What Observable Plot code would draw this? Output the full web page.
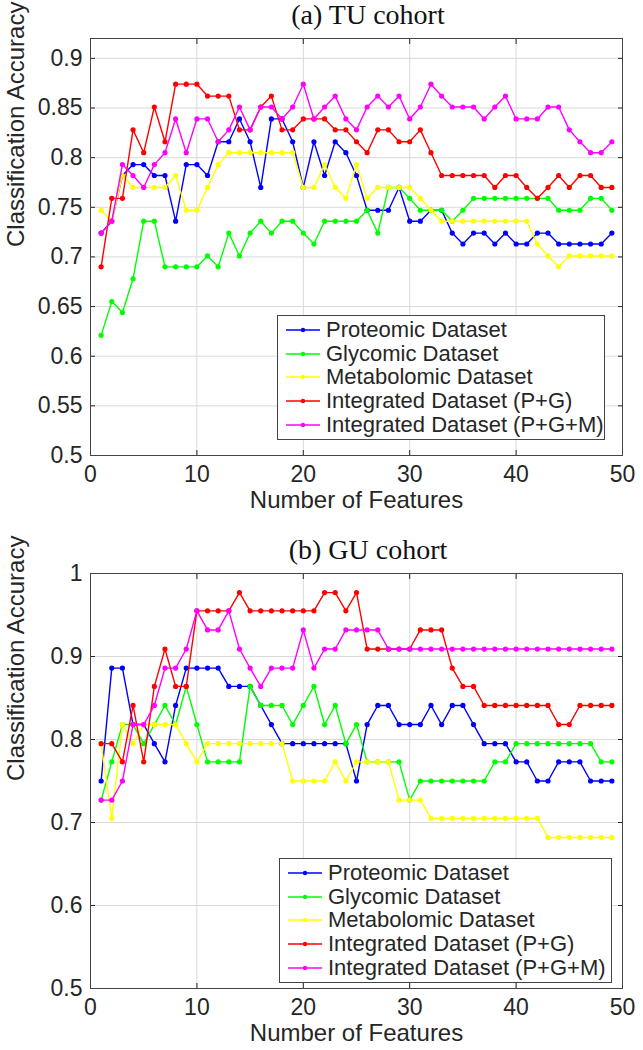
<!DOCTYPE html>
<html><head><meta charset="utf-8">
<script src="https://cdn.jsdelivr.net/npm/d3@7"></script>
<script src="https://cdn.jsdelivr.net/npm/@observablehq/plot@0.6"></script>
<style>
body{margin:0;background:#fff;}
#page{position:relative;width:643px;height:1050px;overflow:hidden;font-family:"Liberation Sans",Arial,sans-serif;color:#262626;background:#fff}
.panel{position:absolute;left:0;width:643px;height:525px}
.panel svg{display:block}
.title{position:absolute;left:0;width:736px;text-align:center;font-family:"Liberation Serif","Times New Roman",serif;font-size:28px;line-height:28px;color:#111}
.legend{position:absolute;box-sizing:border-box;border:1px solid #444;background:#fff;padding-top:2px}
.row{display:flex;align-items:center;height:23.7px;font-size:22px;line-height:22px;white-space:nowrap;color:#262626}
</style></head>
<body><div id="page"></div>
<script>
// ---------- data ----------
const features = [1,2,3,4,5,6,7,8,9,10,11,12,13,14,15,16,17,18,19,20,21,22,23,24,25,26,27,28,29,30,31,32,33,34,35,36,37,38,39,40,41,42,43,44,45,46,47,48,49];
const seriesNames = ["Proteomic Dataset","Glycomic Dataset","Metabolomic Dataset","Integrated Dataset (P+G)","Integrated Dataset (P+G+M)"];
const seriesColors = ["#0000ff","#00ff00","#ffff00","#ff0000","#ff00ff"];
const xTicks = [0,10,20,30,40,50];
const xLabel = "Number of Features";
const yLabel = "Classification Accuracy";

// (a) TU cohort
const titleA = "(a) TU cohort";
const yTicksA = [0.5,0.55,0.6,0.65,0.7,0.75,0.8,0.85,0.9];
const tuProteomic = [0.724,0.736,0.782,0.793,0.793,0.782,0.782,0.736,0.793,0.793,0.782,0.816,0.816,0.839,0.816,0.770,0.839,0.839,0.816,0.770,0.816,0.782,0.816,0.805,0.782,0.747,0.747,0.747,0.770,0.736,0.736,0.747,0.747,0.724,0.713,0.724,0.724,0.713,0.724,0.713,0.713,0.724,0.724,0.713,0.713,0.713,0.713,0.713,0.724];
const tuGlycomic = [0.621,0.655,0.644,0.678,0.736,0.736,0.690,0.690,0.690,0.690,0.701,0.690,0.724,0.701,0.724,0.736,0.724,0.736,0.736,0.724,0.713,0.736,0.736,0.736,0.736,0.747,0.724,0.770,0.770,0.759,0.747,0.747,0.747,0.736,0.747,0.759,0.759,0.759,0.759,0.759,0.759,0.759,0.759,0.747,0.747,0.747,0.759,0.759,0.747];
const tuMetabolomic = [0.747,0.736,0.782,0.770,0.770,0.770,0.770,0.782,0.747,0.747,0.770,0.793,0.805,0.805,0.805,0.805,0.805,0.805,0.805,0.770,0.770,0.793,0.770,0.759,0.793,0.759,0.770,0.770,0.770,0.770,0.759,0.747,0.736,0.736,0.736,0.736,0.736,0.736,0.736,0.736,0.736,0.713,0.701,0.690,0.701,0.701,0.701,0.701,0.701];
const tuPG = [0.690,0.759,0.759,0.828,0.805,0.851,0.816,0.874,0.874,0.874,0.862,0.862,0.862,0.828,0.828,0.851,0.862,0.828,0.828,0.839,0.839,0.839,0.828,0.828,0.816,0.805,0.828,0.828,0.816,0.816,0.828,0.805,0.782,0.782,0.782,0.782,0.782,0.770,0.782,0.782,0.770,0.759,0.770,0.782,0.770,0.782,0.782,0.770,0.770];
const tuPGM = [0.724,0.736,0.793,0.782,0.770,0.793,0.805,0.839,0.805,0.839,0.839,0.816,0.828,0.851,0.828,0.851,0.851,0.839,0.851,0.874,0.839,0.851,0.862,0.839,0.828,0.851,0.862,0.851,0.862,0.839,0.851,0.874,0.862,0.851,0.851,0.851,0.839,0.851,0.862,0.839,0.839,0.839,0.851,0.851,0.828,0.816,0.805,0.805,0.816];

// (b) GU cohort
const titleB = "(b) GU cohort";
const yTicksB = [0.5,0.6,0.7,0.8,0.9,1];
const guProteomic = [0.750,0.886,0.886,0.818,0.818,0.795,0.773,0.841,0.886,0.886,0.886,0.886,0.864,0.864,0.864,0.841,0.818,0.795,0.795,0.795,0.795,0.795,0.795,0.795,0.750,0.818,0.841,0.841,0.818,0.818,0.818,0.841,0.818,0.841,0.841,0.818,0.795,0.795,0.795,0.773,0.773,0.750,0.750,0.773,0.773,0.773,0.750,0.750,0.750];
const guGlycomic = [0.727,0.773,0.818,0.818,0.795,0.818,0.841,0.818,0.864,0.818,0.773,0.773,0.773,0.773,0.864,0.841,0.841,0.841,0.818,0.841,0.864,0.818,0.841,0.795,0.818,0.773,0.773,0.773,0.773,0.727,0.750,0.750,0.750,0.750,0.750,0.750,0.750,0.773,0.773,0.795,0.795,0.795,0.795,0.795,0.795,0.795,0.795,0.773,0.773];
const guMetabolomic = [0.795,0.705,0.818,0.795,0.818,0.818,0.818,0.818,0.795,0.773,0.795,0.795,0.795,0.795,0.795,0.795,0.795,0.795,0.750,0.750,0.750,0.750,0.773,0.750,0.773,0.773,0.773,0.773,0.727,0.727,0.727,0.705,0.705,0.705,0.705,0.705,0.705,0.705,0.705,0.705,0.705,0.705,0.682,0.682,0.682,0.682,0.682,0.682,0.682];
const guPG = [0.795,0.795,0.773,0.841,0.773,0.864,0.909,0.864,0.864,0.955,0.955,0.955,0.955,0.977,0.955,0.955,0.955,0.955,0.955,0.955,0.955,0.977,0.977,0.955,0.977,0.909,0.909,0.909,0.909,0.909,0.932,0.932,0.932,0.886,0.864,0.864,0.841,0.841,0.841,0.841,0.841,0.841,0.841,0.818,0.818,0.841,0.841,0.841,0.841];
const guPGM = [0.727,0.727,0.750,0.818,0.818,0.841,0.886,0.886,0.909,0.955,0.932,0.932,0.955,0.909,0.886,0.864,0.886,0.886,0.886,0.932,0.886,0.909,0.909,0.932,0.932,0.932,0.932,0.909,0.909,0.909,0.909,0.909,0.909,0.909,0.909,0.909,0.909,0.909,0.909,0.909,0.909,0.909,0.909,0.909,0.909,0.909,0.909,0.909,0.909];

// ---------- drawing ----------
const page = document.getElementById("page");

function makePanel(cfg) {
  const panel = document.createElement("div");
  panel.className = "panel";
  panel.style.top = cfg.top + "px";
  page.appendChild(panel);

  const rows = [];
  cfg.values.forEach((vals, i) => vals.forEach((v, j) => rows.push({series: seriesNames[i], n: features[j], acc: v})));

  const marks = [
    Plot.gridX(xTicks, {stroke: "#dadada", strokeOpacity: 1}),
    Plot.gridY(cfg.yTicks, {stroke: "#dadada", strokeOpacity: 1}),
    Plot.axisX(xTicks, {anchor: "bottom", tickSize: 0, tickPadding: 10, label: null}),
    Plot.axisX(xTicks, {anchor: "bottom", tickSize: -5, text: null, label: null}),
    Plot.axisX(xTicks, {anchor: "top", tickSize: -5, text: null, label: null}),
    Plot.axisY(cfg.yTicks, {anchor: "left", tickSize: 0, tickPadding: 8, tickFormat: d => String(d), label: null}),
    Plot.axisY(cfg.yTicks, {anchor: "left", tickSize: -5, text: null, label: null}),
    Plot.axisY(cfg.yTicks, {anchor: "right", tickSize: -5, text: null, label: null})
  ];
  seriesNames.forEach(name => {
    const d = rows.filter(r => r.series === name);
    marks.push(Plot.line(d, {x: "n", y: "acc", stroke: "series", strokeWidth: 1.4}));
    marks.push(Plot.dot(d, {x: "n", y: "acc", fill: "series", r: 2.6}));
  });
  marks.push(Plot.frame({stroke: "#444"}));
  marks.push(Plot.text([xLabel], {frameAnchor: "bottom", dy: 45, fontSize: 24, lineAnchor: "middle", fill: "#262626"}));
  marks.push(Plot.text([yLabel], {frameAnchor: "left", dx: -74, rotate: -90, fontSize: 24, lineAnchor: "middle", fill: "#262626"}));

  const svg = Plot.plot({
    width: 643,
    height: 525,
    marginTop: cfg.mTop,
    marginBottom: cfg.mBottom,
    marginLeft: 90,
    marginRight: 21,
    style: {fontFamily: "'Liberation Sans', Arial, sans-serif", fontSize: "23px", color: "#262626", background: "transparent", overflow: "visible"},
    x: {domain: [0, 50]},
    y: {domain: cfg.yDomain},
    color: {domain: seriesNames, range: seriesColors},
    marks
  });
  panel.appendChild(svg);

  const t = document.createElement("div");
  t.className = "title";
  t.style.top = cfg.titleTop + "px";
  t.textContent = cfg.title;
  panel.appendChild(t);

  const lg = document.createElement("div");
  lg.className = "legend";
  Object.assign(lg.style, {left: cfg.legend.left + "px", top: cfg.legend.top + "px", width: cfg.legend.width + "px", height: "125px"});
  seriesNames.forEach((name, i) => {
    const row = document.createElement("div");
    row.className = "row";
    row.innerHTML = `<svg width="48" height="12" style="flex:none;display:block"><line x1="8" x2="42" y1="6" y2="6" stroke="${seriesColors[i]}" stroke-width="1.3"/><circle cx="25" cy="6" r="2.2" fill="${seriesColors[i]}"/></svg><span>${name}</span>`;
    lg.appendChild(row);
  });
  panel.appendChild(lg);
}

makePanel({top: 0, title: titleA, titleTop: 1, values: [tuProteomic, tuGlycomic, tuMetabolomic, tuPG, tuPGM],
  yDomain: [0.5, 0.92], yTicks: yTicksA, mTop: 38, mBottom: 70, legend: {left: 277, top: 315, width: 328}});
makePanel({top: 525, title: titleB, titleTop: 11, values: [guProteomic, guGlycomic, guMetabolomic, guPG, guPGM],
  yDomain: [0.5, 1.0], yTicks: yTicksB, mTop: 48, mBottom: 62, legend: {left: 279, top: 333, width: 333}});
</script>
</body></html>
